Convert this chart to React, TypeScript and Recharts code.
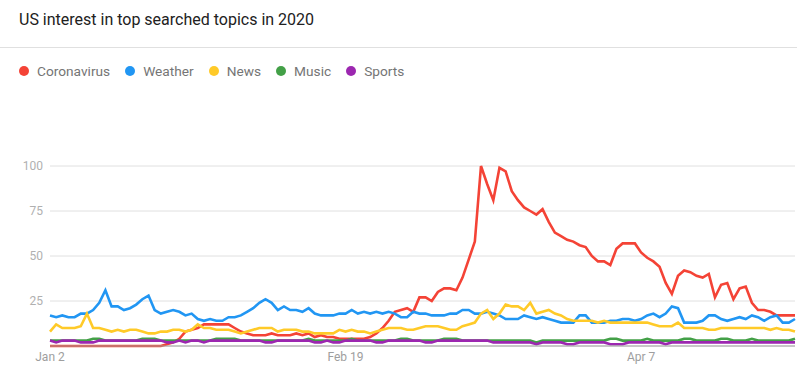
import React from 'react';
import { LineChart, Line, XAxis, YAxis, CartesianGrid } from 'recharts';

const TITLE = 'US interest in top searched topics in 2020';

// x tick positions (day index from Jan 2, 2020) and their labels
const tickDays = [0, 48, 96];
const tickLabels = ['Jan 2', 'Feb 19', 'Apr 7'];
const yTicks = [25, 50, 75, 100];

const seriesNames = ['Coronavirus', 'Weather', 'News', 'Music', 'Sports'];
const seriesColors = ['#F44336', '#2196F3', '#FFCA28', '#43A047', '#9C27B0'];

const coronavirus = [
  0, 0, 0, 0, 0, 0, 0, 0, 0, 0,
  0, 0, 0, 0, 0, 0, 0, 0, 0, 1,
  2, 4, 8, 9, 10, 12, 12, 12, 12, 12,
  10, 8, 7, 6, 6, 6, 7, 6, 6, 6,
  7, 6, 7, 5, 6, 5, 5, 4, 4, 4,
  4, 4, 5, 7, 10, 14, 19, 20, 21, 19,
  27, 27, 25, 30, 32, 32, 31, 38, 48, 58,
  100, 90, 81, 99, 97, 86, 81, 77, 75, 73,
  76, 69, 63, 61, 59, 58, 56, 55, 50, 47,
  47, 45, 54, 57, 57, 57, 52, 49, 47, 44,
  35, 29, 39, 42, 41, 39, 38, 40, 27, 34,
  35, 26, 32, 33, 24, 20, 20, 19, 17, 17, 17, 17,
];

const weather = [
  17, 16, 17, 16, 16, 18, 18, 20, 24, 31,
  22, 22, 20, 21, 23, 26, 28, 20, 18, 19,
  20, 19, 17, 18, 15, 14, 15, 14, 14, 16,
  16, 17, 19, 21, 24, 26, 24, 20, 22, 20,
  20, 19, 21, 18, 17, 17, 17, 18, 18, 20,
  18, 19, 18, 19, 18, 19, 18, 16, 16, 19,
  18, 18, 17, 17, 17, 18, 18, 20, 20, 18,
  18, 19, 18, 17, 15, 15, 15, 17, 16, 15,
  16, 15, 14, 13, 13, 13, 17, 17, 13, 13,
  13, 14, 14, 15, 15, 14, 15, 17, 18, 16,
  18, 22, 21, 13, 13, 13, 14, 17, 17, 15,
  14, 15, 16, 15, 17, 16, 14, 16, 17, 13, 13, 15,
];

const news = [
  8, 12, 10, 10, 10, 11, 18, 10, 10, 9,
  8, 9, 8, 9, 9, 8, 7, 7, 8, 8,
  9, 9, 8, 9, 12, 10, 10, 9, 9, 9,
  8, 7, 8, 9, 10, 10, 10, 8, 9, 9,
  9, 8, 8, 7, 7, 7, 7, 9, 8, 9,
  8, 8, 7, 8, 9, 10, 10, 10, 9, 9,
  10, 11, 11, 11, 10, 9, 9, 11, 12, 13,
  18, 20, 15, 18, 23, 22, 22, 20, 24, 18,
  19, 20, 18, 17, 15, 14, 14, 14, 14, 13,
  14, 13, 13, 13, 13, 13, 13, 13, 12, 11,
  11, 11, 13, 10, 10, 10, 10, 9, 9, 10,
  10, 10, 10, 10, 10, 10, 10, 9, 10, 9, 9, 8,
];

const music = [
  3, 3, 3, 3, 3, 3, 3, 4, 4, 3,
  3, 3, 3, 3, 3, 4, 4, 4, 3, 3,
  3, 3, 3, 3, 3, 3, 3, 4, 4, 4,
  4, 3, 3, 3, 3, 3, 3, 3, 3, 3,
  3, 3, 4, 3, 3, 3, 3, 3, 3, 4,
  3, 3, 3, 3, 3, 3, 3, 4, 4, 3,
  3, 3, 3, 3, 4, 4, 4, 3, 3, 3,
  3, 3, 3, 3, 3, 3, 3, 3, 3, 2,
  3, 3, 3, 3, 3, 3, 3, 3, 3, 3,
  3, 4, 4, 3, 3, 3, 3, 4, 3, 3,
  3, 3, 3, 4, 4, 3, 3, 3, 3, 4,
  4, 3, 3, 3, 4, 3, 3, 3, 3, 3, 3, 4,
];

const sports = [
  3, 2, 3, 3, 3, 2, 2, 2, 3, 3,
  3, 3, 3, 3, 3, 3, 3, 3, 3, 2,
  2, 3, 2, 3, 3, 2, 3, 3, 3, 3,
  3, 3, 3, 3, 3, 2, 2, 3, 3, 3,
  3, 3, 3, 2, 2, 3, 2, 2, 3, 3,
  3, 3, 3, 2, 2, 3, 3, 3, 3, 3,
  3, 2, 2, 3, 3, 3, 3, 3, 3, 3,
  3, 3, 2, 2, 2, 2, 2, 2, 2, 1,
  2, 2, 2, 2, 1, 1, 2, 2, 2, 2,
  2, 1, 1, 1, 2, 2, 2, 2, 2, 2,
  1, 2, 2, 2, 2, 2, 2, 2, 2, 2,
  2, 2, 2, 2, 2, 2, 2, 2, 2, 2, 2, 2,
];

const seriesValues = [coronavirus, weather, news, music, sports];

const data = coronavirus.map((_, i) => {
  const row: Record<string, number> = { day: i };
  seriesNames.forEach((name, s) => {
    row[name] = seriesValues[s][i];
  });
  return row;
});

const FONT = 'Roboto, "Noto Sans", Arial, sans-serif';

export default function App() {
  return (
    <div
      style={{
        position: 'fixed',
        left: 0,
        top: 0,
        width: 797,
        height: 377,
        background: '#fff',
        fontFamily: FONT,
        overflow: 'hidden',
      }}
    >
      <div
        style={{
          position: 'absolute',
          left: 19,
          top: 10,
          fontSize: 16,
          lineHeight: '20px',
          color: '#212121',
          whiteSpace: 'nowrap',
        }}
      >
        {TITLE}
      </div>
      <div
        style={{
          position: 'absolute',
          left: 0,
          top: 47,
          width: 797,
          height: 1,
          background: '#e0e0e0',
        }}
      />
      <div
        style={{
          position: 'absolute',
          left: 19,
          top: 61,
          display: 'flex',
          alignItems: 'center',
          fontSize: 13.7,
          lineHeight: '20px',
          color: '#757575',
          whiteSpace: 'nowrap',
        }}
      >
        {seriesNames.map((name, i) => (
          <div key={name} style={{ display: 'flex', alignItems: 'center', marginRight: 15 }}>
            <span
              style={{
                display: 'inline-block',
                width: 10,
                height: 10,
                borderRadius: 5,
                background: seriesColors[i],
                marginRight: 8,
              }}
            />
            <span>{name}</span>
          </div>
        ))}
      </div>
      <div style={{ position: 'absolute', left: 0, top: 0 }}>
        <LineChart
          width={797}
          height={377}
          data={data}
          margin={{ top: 166, right: 2, bottom: 0, left: 0 }}
        >
          <CartesianGrid vertical={false} stroke="#e0e0e0" strokeWidth={1} />
          <XAxis
            dataKey="day"
            type="number"
            domain={[0, coronavirus.length - 1]}
            ticks={tickDays}
            tickFormatter={(v: number) => tickLabels[tickDays.indexOf(v)] ?? ''}
            tickLine={false}
            tickSize={0}
            tickMargin={6}
            height={31}
            axisLine={{ stroke: '#9e9e9e', strokeWidth: 1 }}
            tick={{ fill: '#9e9e9e', fontSize: 12, fontFamily: FONT }}
            interval={0}
          />
          <YAxis
            type="number"
            domain={[0, 100]}
            ticks={yTicks}
            width={50}
            axisLine={false}
            tickLine={false}
            tickSize={0}
            tickMargin={7}
            tick={{ fill: '#b0b0b0', fontSize: 12, fontFamily: FONT }}
          />
          {seriesNames.map((name, i) => (
            <Line
              key={name}
              type="linear"
              dataKey={name}
              stroke={seriesColors[i]}
              strokeWidth={2.6}
              dot={false}
              activeDot={false}
              isAnimationActive={false}
            />
          ))}
        </LineChart>
      </div>
    </div>
  );
}
